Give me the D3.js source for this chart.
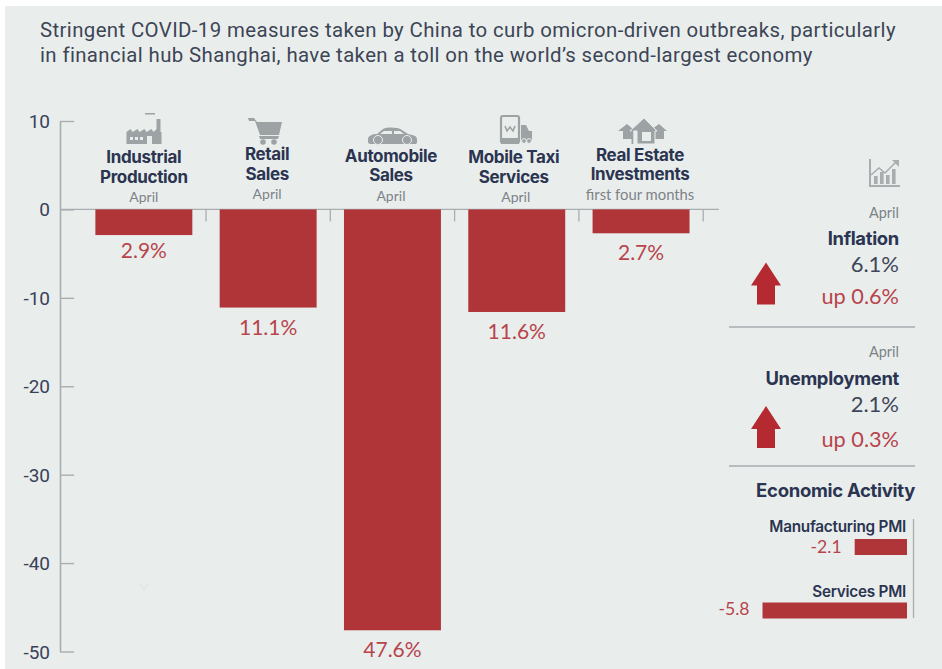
<!DOCTYPE html>
<html>
<head>
<meta charset="utf-8">
<script src="https://cdnjs.cloudflare.com/ajax/libs/d3/7.8.5/d3.min.js"></script>
<style>
html,body{margin:0;padding:0;background:#fff}
svg{display:block}
</style>
</head>
<body>
<svg id="chart" width="942" height="669"></svg>
<script>
// Year-on-year changes shown as the main bars
const categories = ["Industrial Production","Retail Sales","Automobile Sales","Mobile Taxi Services","Real Estate Investments"];
const values = [-2.9,-11.1,-47.6,-11.6,-2.7];
const valueLabels = ["2.9%","11.1%","47.6%","11.6%","2.7%"];
const headerLines = [["Industrial","Production"],["Retail","Sales"],["Automobile","Sales"],["Mobile Taxi","Services"],["Real Estate","Investments"]];
const periods = ["April","April","April","April","first four months"];
const yTicks = [10,0,-10,-20,-30,-40,-50];
const titleLines = [
  "Stringent COVID-19 measures taken by China to curb omicron-driven outbreaks, particularly",
  "in financial hub Shanghai, have taken a toll on the world\u2019s second-largest economy"
];
// Side panel figures
const pmiNames = ["Manufacturing PMI","Services PMI"];
const pmiValues = [-2.1,-5.8];

const RED = "#b03538", ARROW_RED = "#b52a30", LABEL_RED = "#b8444c", NAVY = "#2b3450", GREY = "#a9adaf", MID = "#7d8288", PANEL = "#e9eeed";
const svg = d3.select("#chart");

svg.append("rect").attr("x",5).attr("y",6).attr("width",937).attr("height",663).attr("fill",PANEL);

const title = svg.append("g");
titleLines.forEach((t,i)=>title.append("text").attr("x",40).attr("y",37+i*25)
  .attr("font-size",20.4).attr("font-family","Roboto, sans-serif").attr("letter-spacing",0.38).attr("fill","#3d4555").text(t));

// Scales
const y = d3.scaleLinear().domain([10,-50]).range([121,651.5]);
const x = d3.scaleBand().domain(categories).range([81.7,703.2]).paddingInner(0.22).paddingOuter(0.11);
const step = x.step(), bw = x.bandwidth();
const pmiX = d3.scaleLinear().domain([-5.8,0]).range([762.5,907]);

// Value axis
const yAxis = svg.append("g").attr("transform","translate(60,0)")
  .call(d3.axisRight(y).tickValues(yTicks).tickSize(14).tickSizeOuter(0).tickFormat(""));
yAxis.select(".domain").attr("stroke",GREY).attr("stroke-width",1.6);
yAxis.selectAll(".tick line").attr("stroke",GREY).attr("stroke-width",1.4);
yTicks.forEach(v=>svg.append("text").attr("x",50).attr("y",y(v)+7).attr("text-anchor","end")
  .attr("font-size",19).attr("font-family","Roboto, sans-serif").attr("fill","#3a4258").text(v));

// Zero line with the separators hanging from it
svg.append("line").attr("x1",60).attr("x2",719).attr("y1",y(0)).attr("y2",y(0)).attr("stroke",GREY).attr("stroke-width",1.4);
svg.append("g").selectAll("line").data(categories).join("line")
  .attr("x1",d=>x(d)+bw+(step-bw)/2).attr("x2",d=>x(d)+bw+(step-bw)/2)
  .attr("y1",y(0)).attr("y2",y(0)+12).attr("stroke",GREY).attr("stroke-width",1.3);

// Main bars
svg.append("g").selectAll("rect").data(categories).join("rect")
  .attr("x",d=>x(d)).attr("width",bw)
  .attr("y",y(0)).attr("height",(d,i)=>y(values[i])-y(0)).attr("fill",RED);

const labelGap = [23,27,27,27,27];
svg.append("g").selectAll("text").data(categories).join("text")
  .attr("x",d=>x(d)+bw/2).attr("y",(d,i)=>y(values[i])+labelGap[i])
  .attr("text-anchor","middle").attr("font-size",21).attr("font-family","Lato, sans-serif")
  .attr("fill",LABEL_RED).text((d,i)=>valueLabels[i]);

// Category headers above the zero line
const headerY = [[163,182.5],[160,179.5],[162,181],[163,182.5],[161,180]];
const periodY = [202,199,201,202,200];
const headerShift = [0,-1,-1.5,-3,-1];
categories.forEach((c,i)=>{
  const cx = x(c)+bw/2 + headerShift[i];
  headerLines[i].forEach((l,j)=>svg.append("text").attr("x",cx).attr("y",headerY[i][j])
    .attr("text-anchor","middle").attr("font-size",17).attr("font-weight",700)
    .attr("font-family","Inter, sans-serif").attr("letter-spacing",-0.35).attr("fill",NAVY).text(l));
  svg.append("text").attr("x",cx+(i===3?2:0)).attr("y",periodY[i]).attr("text-anchor","middle")
    .attr("font-size",i===4?14.8:14).attr("font-family","Lato, sans-serif").attr("fill",MID).text(periods[i]);
});

// Pictograms
const icon = "#9da2a5";
const factory = svg.append("g").attr("transform","translate(126,112)").attr("fill",icon);
factory.append("path").attr("d","M0.5 32V20l4-3 2 3 5-3 2 3 5-3 2 3 5-3 2 3 3-3V7h4v13h1v12Z");
factory.append("path").attr("d","M19 1h10v1.5H19Z");
factory.selectAll("rect.w").data([4,9,14]).join("rect").attr("x",d=>d).attr("y",25).attr("width",3).attr("height",3).attr("fill",PANEL);
factory.append("rect").attr("x",21).attr("y",24).attr("width",5).attr("height",8).attr("fill",PANEL);

const cart = svg.append("g").attr("transform","translate(248,117)").attr("fill",icon);
cart.append("path").attr("d","M0 1h6l3 4h25l-3 13H12L7 4H1Z");
cart.append("path").attr("d","M11 19h20l-1 3H12Z");
cart.append("circle").attr("cx",15).attr("cy",25).attr("r",2.8);
cart.append("circle").attr("cx",26).attr("cy",25).attr("r",2.8);

const car = svg.append("g").attr("transform","translate(367,127)").attr("fill",icon);
car.append("path").attr("d","M1 12c0-3 4-5 9-5l6-5c5-2 14-2 19 1l6 4c5 1 9 2 9 5v3c0 2-1 2-3 2H4c-2 0-3-1-3-2Z");
car.append("circle").attr("cx",11).attr("cy",13).attr("r",4.5).attr("stroke",PANEL).attr("stroke-width",1);
car.append("circle").attr("cx",40).attr("cy",13).attr("r",4.5).attr("stroke",PANEL).attr("stroke-width",1);
car.append("path").attr("d","M17 4h8v3H13ZM27 4h6l4 3H27Z").attr("fill",PANEL);

const taxi = svg.append("g").attr("transform","translate(500,115)");
taxi.append("rect").attr("x",1).attr("y",1).attr("width",18).attr("height",27).attr("rx",2).attr("fill","none").attr("stroke",icon).attr("stroke-width",2.2);
taxi.append("rect").attr("x",1).attr("y",23).attr("width",18).attr("height",6).attr("fill",icon);
taxi.append("path").attr("d","M5 11l2 5 3-4 3 4 2-5").attr("fill","none").attr("stroke",icon).attr("stroke-width",1.6);
taxi.append("path").attr("d","M21 10h5l3 6h3v10H21Z").attr("fill",icon);
taxi.append("circle").attr("cx",24).attr("cy",26).attr("r",2.4).attr("fill",icon).attr("stroke",PANEL);
taxi.append("circle").attr("cx",29).attr("cy",26).attr("r",2.4).attr("fill",icon).attr("stroke",PANEL);

const houses = svg.append("g").attr("transform","translate(618,118)").attr("fill",icon);
houses.append("path").attr("d","M0 13L9 6L15 11V21H5V13Z");
houses.append("path").attr("d","M34 11L41 6L49 13H46V21H34Z");
houses.append("path").attr("d","M12 13L26 0L39 13H37V26H19V13Z").attr("stroke",PANEL).attr("stroke-width",1);
houses.append("rect").attr("x",13.5).attr("y",12).attr("width",1.8).attr("height",14);
houses.append("rect").attr("x",24).attr("y",14).attr("width",9).attr("height",9).attr("fill",PANEL);

// Side panel
const rightText = (x0,y0,t,size,opts={})=>svg.append("text").attr("x",x0).attr("y",y0).attr("text-anchor","end")
  .attr("font-size",size).attr("font-family",opts.family||"Lato, sans-serif").attr("font-weight",opts.weight||400)
  .attr("letter-spacing",opts.spacing||0).attr("fill",opts.fill||MID).text(t);

const trend = svg.append("g").attr("transform","translate(869,159)");
trend.append("path").attr("d","M1 0V27H31").attr("fill","none").attr("stroke",GREY).attr("stroke-width",2);
trend.selectAll("rect").data([[5,8],[11,12],[17,9],[23,15]]).join("rect").attr("x",d=>d[0]).attr("y",d=>25-d[1]).attr("width",3.6).attr("height",d=>d[1]).attr("fill",GREY);
trend.append("path").attr("d","M2 16l8-7 6 5 11-11").attr("fill","none").attr("stroke",GREY).attr("stroke-width",1.6);
trend.append("path").attr("d","M23 1h7v7Z").attr("fill",GREY);

const arrow = "M0 -42L15 -19H9V0H-9V-19H-15Z";
[[304.5,"April",218,"Inflation",245,"6.1%",272,"up 0.6%",304,327],
 [448,"April",357,"Unemployment",385,"2.1%",412,"up 0.3%",447,466]].forEach(r=>{
  svg.append("path").attr("d",arrow).attr("transform",`translate(766,${r[0]})`).attr("fill",ARROW_RED);
  rightText(899,r[2],r[1],14.5);
  rightText(899,r[4],r[3],18.4,{family:"Inter, sans-serif",weight:700,fill:NAVY,spacing:-0.3});
  rightText(899,r[6],r[5],22,{fill:"#3f4658"});
  rightText(899,r[8],r[7],21.7,{fill:LABEL_RED});
  svg.append("line").attr("x1",729).attr("x2",915).attr("y1",r[9]).attr("y2",r[9]).attr("stroke",GREY).attr("stroke-width",1.3);
});

rightText(915,497,"Economic Activity",18.5,{family:"Inter, sans-serif",weight:700,fill:NAVY,spacing:-0.3});
svg.append("line").attr("x1",913.5).attr("x2",913.5).attr("y1",519).attr("y2",618).attr("stroke",GREY).attr("stroke-width",1.3);

const pmiBarY = [539,602.5], pmiNameY = [532,597], pmiValueY = [553,615];
svg.append("g").selectAll("rect").data(pmiValues).join("rect")
  .attr("x",d=>pmiX(d)).attr("width",d=>pmiX(0)-pmiX(d))
  .attr("y",(d,i)=>pmiBarY[i]).attr("height",16).attr("fill",RED);
pmiValues.forEach((v,i)=>{
  rightText(906,pmiNameY[i],pmiNames[i],15.3,{family:"Inter, sans-serif",weight:600,fill:NAVY,spacing:-0.25});
  rightText(pmiX(v)-13,pmiValueY[i],v.toFixed(1),17.6,{fill:LABEL_RED});
});

// Small faint speck on the panel
svg.append("path").attr("d","M140 584l4 6 4-6").attr("fill","none").attr("stroke","#dfe4e3").attr("stroke-width",1.2);
</script>
</body>
</html>
